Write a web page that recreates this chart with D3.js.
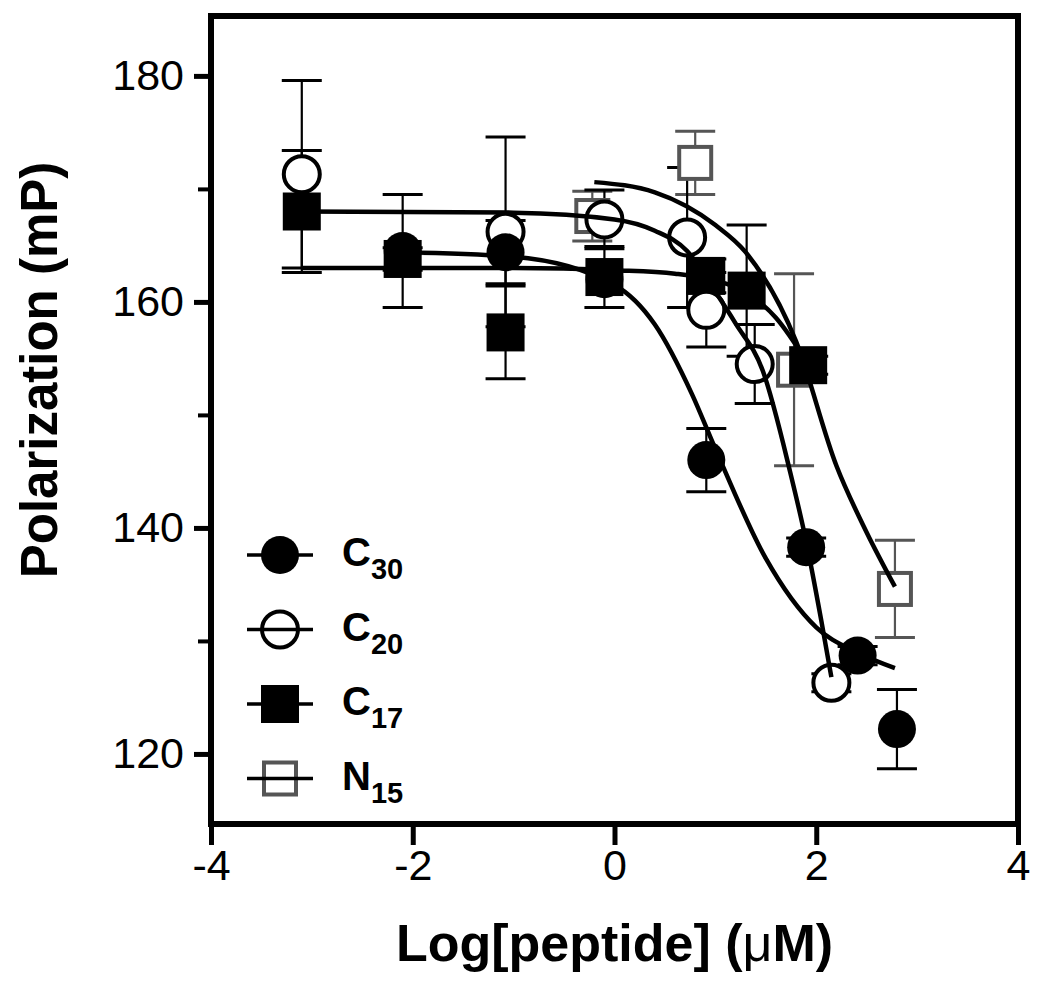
<!DOCTYPE html>
<html>
<head>
<meta charset="utf-8">
<script src="https://cdn.jsdelivr.net/npm/d3@7"></script>
<style>
  body { margin: 0; background: #fff; }
  text { font-family: "Liberation Sans", Arial, Helvetica, sans-serif; }
</style>
</head>
<body>
<svg id="chart"></svg>
<script>
const width = 1050;
const height = 989;

// measured points: log[peptide] (µM), polarization (mP), error
const c30X = [-2.1, -1.08, -0.1, 0.91, 1.9, 2.41, 2.8];
const c30Y = [164.5, 164.4, 162.0, 146.0, 138.3, 128.7, 122.2];
const c30Err = [5.0, 2.8, 0, 2.8, 0.8, 0.8, 3.5];

const c20X = [-3.1, -1.08, -0.1, 0.72, 0.91, 1.39, 2.15];
const c20Y = [171.3, 166.2, 167.3, 165.7, 159.3, 154.5, 126.3];
const c20Err = [8.3, 8.4, 2.6, 6.2, 3.3, 3.5, 0.8];

const c17X = [-3.1, -2.1, -1.08, -0.1, 0.91, 1.31, 1.92];
const c17Y = [168.0, 163.8, 157.3, 162.2, 162.3, 161.0, 154.4];
const c17Err = [5.4, 1.0, 4.1, 2.7, 1.5, 5.8, 0.8];

const n15X = [-0.22, 0.8, 1.78, 2.78];
const n15Y = [167.6, 172.3, 154.0, 134.6];
const n15Err = [2.2, 2.8, 8.5, 4.3];

// fitted curves
const c30FitX = [-2.1, -1.0, 0.0, 0.4, 0.77, 1.0, 1.5, 2.0, 2.4, 2.78];
const c30FitY = [164.4, 164.0, 161.5, 158.0, 151.8, 147.0, 137.3, 131.2, 129.0, 127.6];

const c20FitX = [-3.1, -1.0, 0.0, 0.4, 0.72, 1.0, 1.2, 1.47, 1.74, 1.9, 2.05, 2.15];
const c20FitY = [168.0, 167.9, 167.3, 166.3, 164.5, 160.9, 158.1, 153.9, 145.0, 138.8, 131.8, 126.8];

const c17FitX = [-3.1, -1.0, 0.0, 0.6, 1.0, 1.31, 1.6, 1.92];
const c17FitY = [163.0, 163.0, 162.8, 162.5, 161.9, 160.8, 158.6, 154.5];

const n15FitX = [-0.2, 0.4, 1.0, 1.3, 1.8, 2.2, 2.5, 2.78];
const n15FitY = [170.6, 169.7, 166.8, 164.4, 156.5, 145.5, 139.6, 134.8];

const xTicks = [-4, -2, 0, 2, 4];
const yMajor = [120, 140, 160, 180];
const yMinor = [130, 150, 170];

const legendNames = [['C', '30'], ['C', '20'], ['C', '17'], ['N', '15']];

const zip = (xs, ys, es) => xs.map((x, i) => ({x: x, y: ys[i], e: es ? es[i] : 0}));

const series = [
  {name: 'N15', shape: 'square', fill: '#fff', color: '#555', pts: zip(n15X, n15Y, n15Err), fit: zip(n15FitX, n15FitY)},
  {name: 'C17', shape: 'square', fill: '#000', color: '#000', pts: zip(c17X, c17Y, c17Err), fit: zip(c17FitX, c17FitY)},
  {name: 'C20', shape: 'circle', fill: '#fff', color: '#000', pts: zip(c20X, c20Y, c20Err), fit: zip(c20FitX, c20FitY)},
  {name: 'C30', shape: 'circle', fill: '#000', color: '#000', pts: zip(c30X, c30Y, c30Err), fit: zip(c30FitX, c30FitY)}
];

const plotLeft = 211, plotRight = 1018, plotTop = 16, plotBottom = 824;

const x = d3.scaleLinear().domain([-4, 4]).range([plotLeft, plotRight]);
const y = d3.scaleLinear().domain([113.8, 185.3]).range([plotBottom, plotTop]);

const svg = d3.select('#chart')
  .attr('width', width)
  .attr('height', height);

// axes
const yAxis = svg.append('g')
  .attr('transform', `translate(${plotLeft},0)`)
  .call(d3.axisLeft(y).tickValues(yMajor).tickSize(17).tickPadding(10).tickFormat(d => d));
yAxis.selectAll('line').attr('stroke-width', 5);

const yMinorAxis = svg.append('g')
  .attr('transform', `translate(${plotLeft},0)`)
  .call(d3.axisLeft(y).tickValues(yMinor).tickSize(13).tickFormat(''));
yMinorAxis.selectAll('line').attr('stroke-width', 4);

const xAxis = svg.append('g')
  .attr('transform', `translate(0,${plotBottom})`)
  .call(d3.axisBottom(x).tickValues(xTicks).tickSize(21).tickPadding(4).tickFormat(d => String(d)));
xAxis.selectAll('line').attr('stroke-width', 5);

svg.selectAll('.domain').remove();
svg.selectAll('.tick text')
  .attr('font-size', 43)
  .attr('fill', '#000')
  .style('font-family', '"Liberation Sans", Arial, sans-serif');

svg.append('rect')
  .attr('x', plotLeft)
  .attr('y', plotTop)
  .attr('width', plotRight - plotLeft)
  .attr('height', plotBottom - plotTop)
  .attr('fill', 'none')
  .attr('stroke', '#000')
  .attr('stroke-width', 6);

// error bars
series.forEach(s => {
  const g = svg.append('g').attr('stroke', s.color).attr('stroke-width', 2.2);
  s.pts.filter(p => p.e > 0).forEach(p => {
    g.append('line')
      .attr('x1', x(p.x)).attr('x2', x(p.x))
      .attr('y1', y(p.y - p.e)).attr('y2', y(p.y + p.e));
    [p.y - p.e, p.y + p.e].forEach(v => {
      g.append('line')
        .attr('x1', x(p.x) - 20).attr('x2', x(p.x) + 20)
        .attr('y1', y(v)).attr('y2', y(v))
        .attr('stroke-width', 3);
    });
  });
});

function drawMarker(g, s, cx, cy) {
  const filled = s.fill !== '#fff';
  if (s.shape === 'circle') {
    g.append('circle')
      .attr('cx', cx).attr('cy', cy)
      .attr('r', filled ? 19 : 18)
      .attr('fill', s.fill)
      .attr('stroke', s.color)
      .attr('stroke-width', filled ? 0 : 4);
  } else {
    const half = filled ? 19 : 16;
    g.append('rect')
      .attr('x', cx - half).attr('y', cy - half)
      .attr('width', half * 2).attr('height', half * 2)
      .attr('fill', s.fill)
      .attr('stroke', s.color)
      .attr('stroke-width', filled ? 0 : 4);
  }
}

// markers
series.forEach(s => {
  const g = svg.append('g');
  s.pts.forEach(p => drawMarker(g, s, x(p.x), y(p.y)));
});

// fit curves
const line = d3.line()
  .x(d => x(d.x))
  .y(d => y(d.y))
  .curve(d3.curveMonotoneX);

series.forEach(s => {
  svg.append('path')
    .datum(s.fit)
    .attr('d', line)
    .attr('fill', 'none')
    .attr('stroke', '#000')
    .attr('stroke-width', 4.5);
});

// legend
const legendOrder = ['C30', 'C20', 'C17', 'N15'];
const legend = svg.append('g');
legendOrder.forEach((name, i) => {
  const s = series.find(d => d.name === name);
  const ry = 555 + i * 74.5;
  drawMarker(legend, s, 280, ry);
  legend.append('line')
    .attr('x1', 247).attr('x2', 313)
    .attr('y1', ry).attr('y2', ry)
    .attr('stroke', '#000')
    .attr('stroke-width', 3.5);
  const t = legend.append('text')
    .attr('x', 342)
    .attr('y', ry + 11)
    .attr('font-size', 40)
    .attr('font-weight', 'bold');
  t.append('tspan').text(legendNames[i][0]);
  t.append('tspan')
    .attr('font-size', 29)
    .attr('dy', 13)
    .text(legendNames[i][1]);
});

// axis titles
const xTitle = svg.append('text')
  .attr('x', (plotLeft + plotRight) / 2)
  .attr('y', 961)
  .attr('text-anchor', 'middle')
  .attr('font-size', 52)
  .attr('font-weight', 'bold');
xTitle.append('tspan').text('Log[peptide] (');
xTitle.append('tspan').attr('font-weight', 'normal').text('μ');
xTitle.append('tspan').text('M)');

svg.append('text')
  .attr('transform', 'translate(57,370) rotate(-90)')
  .attr('text-anchor', 'middle')
  .attr('font-size', 51)
  .attr('font-weight', 'bold')
  .text('Polarization (mP)');
</script>
</body>
</html>
